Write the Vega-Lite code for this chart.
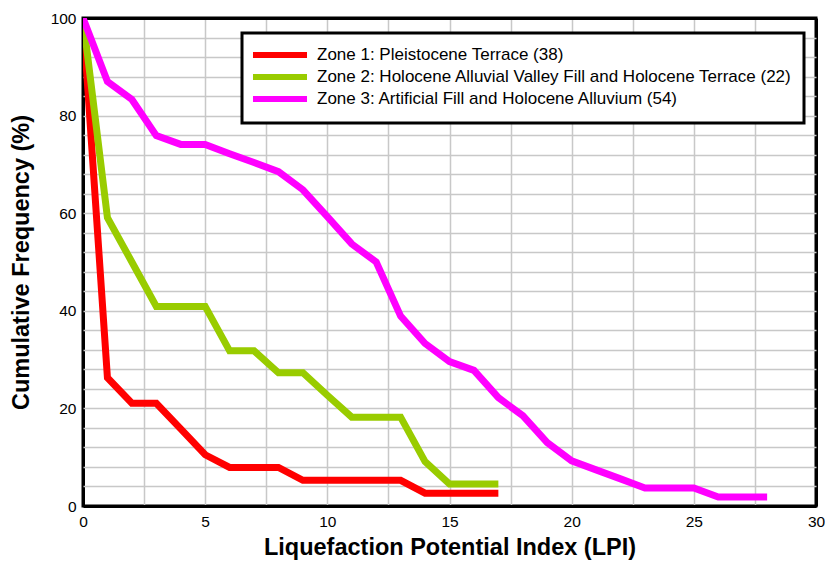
{
  "$schema": "https://vega.github.io/schema/vega-lite/v6.json",
  "width": 733,
  "height": 488,
  "autosize": "none",
  "padding": {"left": 83, "top": 18, "right": 9, "bottom": 56},
  "background": "white",
  "config": {
    "font": "Liberation Sans",
    "view": {"stroke": "black", "strokeWidth": 3},
    "legend": {"strokeWidth": 3}
  },
  "data": {
    "values": [
      {"zone": "Zone 1: Pleistocene Terrace (38)", "x": 0, "y": 100},
      {"zone": "Zone 1: Pleistocene Terrace (38)", "x": 1, "y": 26.3},
      {"zone": "Zone 1: Pleistocene Terrace (38)", "x": 2, "y": 21.05},
      {"zone": "Zone 1: Pleistocene Terrace (38)", "x": 3, "y": 21.05},
      {"zone": "Zone 1: Pleistocene Terrace (38)", "x": 4, "y": 15.8},
      {"zone": "Zone 1: Pleistocene Terrace (38)", "x": 5, "y": 10.5},
      {"zone": "Zone 1: Pleistocene Terrace (38)", "x": 6, "y": 7.9},
      {"zone": "Zone 1: Pleistocene Terrace (38)", "x": 7, "y": 7.9},
      {"zone": "Zone 1: Pleistocene Terrace (38)", "x": 8, "y": 7.9},
      {"zone": "Zone 1: Pleistocene Terrace (38)", "x": 9, "y": 5.26},
      {"zone": "Zone 1: Pleistocene Terrace (38)", "x": 10, "y": 5.26},
      {"zone": "Zone 1: Pleistocene Terrace (38)", "x": 11, "y": 5.26},
      {"zone": "Zone 1: Pleistocene Terrace (38)", "x": 12, "y": 5.26},
      {"zone": "Zone 1: Pleistocene Terrace (38)", "x": 13, "y": 5.26},
      {"zone": "Zone 1: Pleistocene Terrace (38)", "x": 14, "y": 2.63},
      {"zone": "Zone 1: Pleistocene Terrace (38)", "x": 15, "y": 2.63},
      {"zone": "Zone 1: Pleistocene Terrace (38)", "x": 16, "y": 2.63},
      {"zone": "Zone 1: Pleistocene Terrace (38)", "x": 17, "y": 2.63},
      {"zone": "Zone 2: Holocene Alluvial Valley Fill and Holocene Terrace (22)", "x": 0, "y": 100},
      {"zone": "Zone 2: Holocene Alluvial Valley Fill and Holocene Terrace (22)", "x": 1, "y": 59.1},
      {"zone": "Zone 2: Holocene Alluvial Valley Fill and Holocene Terrace (22)", "x": 2, "y": 50},
      {"zone": "Zone 2: Holocene Alluvial Valley Fill and Holocene Terrace (22)", "x": 3, "y": 40.9},
      {"zone": "Zone 2: Holocene Alluvial Valley Fill and Holocene Terrace (22)", "x": 4, "y": 40.9},
      {"zone": "Zone 2: Holocene Alluvial Valley Fill and Holocene Terrace (22)", "x": 5, "y": 40.9},
      {"zone": "Zone 2: Holocene Alluvial Valley Fill and Holocene Terrace (22)", "x": 6, "y": 31.8},
      {"zone": "Zone 2: Holocene Alluvial Valley Fill and Holocene Terrace (22)", "x": 7, "y": 31.8},
      {"zone": "Zone 2: Holocene Alluvial Valley Fill and Holocene Terrace (22)", "x": 8, "y": 27.3},
      {"zone": "Zone 2: Holocene Alluvial Valley Fill and Holocene Terrace (22)", "x": 9, "y": 27.3},
      {"zone": "Zone 2: Holocene Alluvial Valley Fill and Holocene Terrace (22)", "x": 10, "y": 22.7},
      {"zone": "Zone 2: Holocene Alluvial Valley Fill and Holocene Terrace (22)", "x": 11, "y": 18.2},
      {"zone": "Zone 2: Holocene Alluvial Valley Fill and Holocene Terrace (22)", "x": 12, "y": 18.2},
      {"zone": "Zone 2: Holocene Alluvial Valley Fill and Holocene Terrace (22)", "x": 13, "y": 18.2},
      {"zone": "Zone 2: Holocene Alluvial Valley Fill and Holocene Terrace (22)", "x": 14, "y": 9.1},
      {"zone": "Zone 2: Holocene Alluvial Valley Fill and Holocene Terrace (22)", "x": 15, "y": 4.5},
      {"zone": "Zone 2: Holocene Alluvial Valley Fill and Holocene Terrace (22)", "x": 16, "y": 4.5},
      {"zone": "Zone 2: Holocene Alluvial Valley Fill and Holocene Terrace (22)", "x": 17, "y": 4.5},
      {"zone": "Zone 3: Artificial Fill and Holocene Alluvium (54)", "x": 0, "y": 100},
      {"zone": "Zone 3: Artificial Fill and Holocene Alluvium (54)", "x": 1, "y": 87.0},
      {"zone": "Zone 3: Artificial Fill and Holocene Alluvium (54)", "x": 2, "y": 83.3},
      {"zone": "Zone 3: Artificial Fill and Holocene Alluvium (54)", "x": 3, "y": 75.9},
      {"zone": "Zone 3: Artificial Fill and Holocene Alluvium (54)", "x": 4, "y": 74.1},
      {"zone": "Zone 3: Artificial Fill and Holocene Alluvium (54)", "x": 5, "y": 74.1},
      {"zone": "Zone 3: Artificial Fill and Holocene Alluvium (54)", "x": 6, "y": 72.2},
      {"zone": "Zone 3: Artificial Fill and Holocene Alluvium (54)", "x": 7, "y": 70.4},
      {"zone": "Zone 3: Artificial Fill and Holocene Alluvium (54)", "x": 8, "y": 68.5},
      {"zone": "Zone 3: Artificial Fill and Holocene Alluvium (54)", "x": 9, "y": 64.8},
      {"zone": "Zone 3: Artificial Fill and Holocene Alluvium (54)", "x": 10, "y": 59.3},
      {"zone": "Zone 3: Artificial Fill and Holocene Alluvium (54)", "x": 11, "y": 53.7},
      {"zone": "Zone 3: Artificial Fill and Holocene Alluvium (54)", "x": 12, "y": 50.0},
      {"zone": "Zone 3: Artificial Fill and Holocene Alluvium (54)", "x": 13, "y": 38.9},
      {"zone": "Zone 3: Artificial Fill and Holocene Alluvium (54)", "x": 14, "y": 33.3},
      {"zone": "Zone 3: Artificial Fill and Holocene Alluvium (54)", "x": 15, "y": 29.6},
      {"zone": "Zone 3: Artificial Fill and Holocene Alluvium (54)", "x": 16, "y": 27.8},
      {"zone": "Zone 3: Artificial Fill and Holocene Alluvium (54)", "x": 17, "y": 22.2},
      {"zone": "Zone 3: Artificial Fill and Holocene Alluvium (54)", "x": 18, "y": 18.5},
      {"zone": "Zone 3: Artificial Fill and Holocene Alluvium (54)", "x": 19, "y": 13.0},
      {"zone": "Zone 3: Artificial Fill and Holocene Alluvium (54)", "x": 20, "y": 9.26},
      {"zone": "Zone 3: Artificial Fill and Holocene Alluvium (54)", "x": 21, "y": 7.4},
      {"zone": "Zone 3: Artificial Fill and Holocene Alluvium (54)", "x": 22, "y": 5.56},
      {"zone": "Zone 3: Artificial Fill and Holocene Alluvium (54)", "x": 23, "y": 3.7},
      {"zone": "Zone 3: Artificial Fill and Holocene Alluvium (54)", "x": 24, "y": 3.7},
      {"zone": "Zone 3: Artificial Fill and Holocene Alluvium (54)", "x": 25, "y": 3.7},
      {"zone": "Zone 3: Artificial Fill and Holocene Alluvium (54)", "x": 26, "y": 1.85},
      {"zone": "Zone 3: Artificial Fill and Holocene Alluvium (54)", "x": 27, "y": 1.85},
      {"zone": "Zone 3: Artificial Fill and Holocene Alluvium (54)", "x": 28, "y": 1.85}
    ]
  },
  "mark": {"type": "line", "strokeWidth": 7, "clip": true, "strokeCap": "butt"},
  "encoding": {
    "x": {
      "field": "x",
      "type": "quantitative",
      "scale": {"domain": [0, 30], "nice": false, "zero": true},
      "axis": {
        "title": "Liquefaction Potential Index (LPI)",
        "values": [0, 2.5, 5, 7.5, 10, 12.5, 15, 17.5, 20, 22.5, 25, 27.5, 30],
        "labelExpr": "datum.value % 5 === 0 ? datum.label : ''",
        "ticks": false,
        "domain": false,
        "labelFontSize": 15.5,
        "labelColor": "black",
        "labelPadding": 8,
        "labelFlush": false,
        "titleFontSize": 23.5,
        "titleFontWeight": "bold",
        "titleColor": "black",
        "titlePadding": 6,
        "gridColor": {"condition": {"test": "datum.value === 0 || datum.value === 30", "value": "black"}, "value": "#c8c8c8"},
        "gridWidth": {"condition": {"test": "datum.value === 0 || datum.value === 30", "value": 3}, "value": 1.5}
      }
    },
    "y": {
      "field": "y",
      "type": "quantitative",
      "scale": {"domain": [0, 100], "nice": false},
      "axis": {
        "title": "Cumulative Frequency (%)",
        "values": [0, 4, 8, 12, 16, 20, 24, 28, 32, 36, 40, 44, 48, 52, 56, 60, 64, 68, 72, 76, 80, 84, 88, 92, 96, 100],
        "labelExpr": "datum.value % 20 === 0 ? datum.label : ''",
        "ticks": false,
        "domain": false,
        "labelFontSize": 15.5,
        "labelColor": "black",
        "labelPadding": 7,
        "labelFlush": false,
        "titleFontSize": 23.5,
        "titleFontWeight": "bold",
        "titleColor": "black",
        "titlePadding": 17,
        "gridColor": {"condition": {"test": "datum.value === 0 || datum.value === 100", "value": "black"}, "value": "#c8c8c8"},
        "gridWidth": {"condition": {"test": "datum.value === 0 || datum.value === 100", "value": 3}, "value": 1.5}
      }
    },
    "color": {
      "field": "zone",
      "type": "nominal",
      "scale": {
        "domain": [
          "Zone 1: Pleistocene Terrace (38)",
          "Zone 2: Holocene Alluvial Valley Fill and Holocene Terrace (22)",
          "Zone 3: Artificial Fill and Holocene Alluvium (54)"
        ],
        "range": ["#ff0000", "#99cc00", "#ff00ff"]
      },
      "legend": {
        "title": null,
        "orient": "none",
        "legendX": 159,
        "legendY": 15,
        "direction": "vertical",
        "fillColor": "white",
        "strokeColor": "black",
        "padding": 12,
        "symbolType": "M-4.06,0H4.06",
        "symbolSize": 177,
        "symbolStrokeWidth": 6,
        "symbolOffset": 16,
        "labelFontSize": 17,
        "labelColor": "black",
        "labelLimit": 0,
        "labelOffset": 27,
        "rowPadding": -10
      }
    }
  }
}
